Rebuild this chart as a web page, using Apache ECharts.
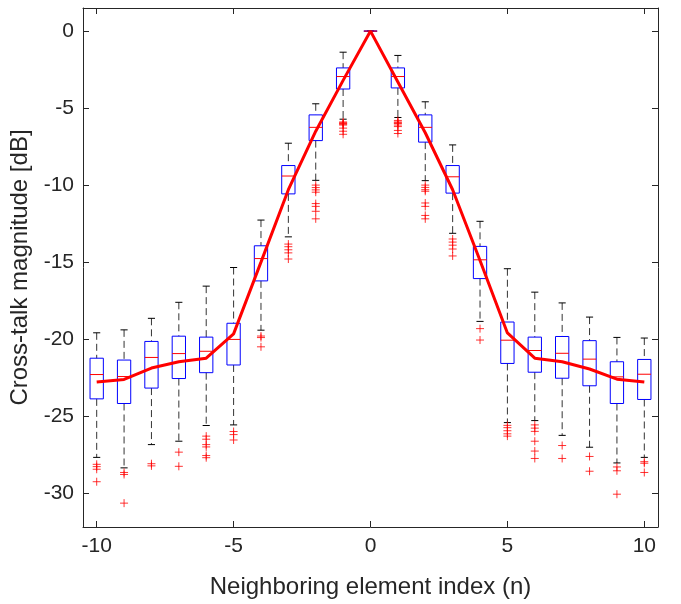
<!DOCTYPE html>
<html>
<head>
<meta charset="utf-8">
<script src="https://cdn.jsdelivr.net/npm/echarts@6/dist/echarts.min.js"></script>
<style>
	html, body { margin: 0; padding: 0; background: #fff; }
	#chart { width: 681px; height: 604px; }
</style>
</head>
<body>
<div id="chart"></div>
<script>
const indices = [-10, -9, -8, -7, -6, -5, -4, -3, -2, -1, 0, 1, 2, 3, 4, 5, 6, 7, 8, 9, 10];
const whiskerLow = [-27.68, -28.36, -26.85, -26.63, -25.61, -25.57, -19.42, -13.36, -9.69, -5.72, 0, -5.61, -9.71, -13.13, -18.85, -25.42, -25.29, -26.25, -27.02, -28.04, -27.68];
const quartile1 = [-23.88, -24.18, -23.18, -22.56, -22.18, -21.68, -16.22, -10.57, -7.11, -3.76, 0, -3.69, -7.21, -10.52, -16.07, -21.58, -22.15, -22.54, -23.03, -24.18, -23.92];
const medians = [-22.30, -22.43, -21.19, -20.94, -20.79, -20.02, -14.77, -9.41, -6.25, -2.95, 0, -2.95, -6.25, -9.46, -14.85, -20.07, -20.74, -20.92, -21.30, -22.45, -22.28];
const quartile3 = [-21.24, -21.36, -20.15, -19.81, -19.87, -18.97, -13.94, -8.73, -5.44, -2.39, 0, -2.39, -5.44, -8.73, -13.98, -18.89, -19.87, -19.83, -20.10, -21.47, -21.32];
const whiskerHigh = [-19.59, -19.40, -18.65, -17.61, -16.56, -15.35, -12.27, -7.28, -4.72, -1.37, 0, -1.58, -4.59, -7.39, -12.35, -15.43, -16.95, -17.65, -18.57, -19.89, -19.93];
const meanLine = [-22.79, -22.62, -21.88, -21.47, -21.24, -19.66, -15.0, -10.3, -6.5, -3.2, 0, -3.3, -6.6, -10.3, -14.9, -19.6, -21.24, -21.47, -21.94, -22.6, -22.79];
const outliers = [
	[-28.13, -28.28, -28.45, -29.26],
	[-28.66, -28.79, -30.65],
	[-28.09, -28.23],
	[-27.34, -28.26],
	[-26.3, -26.5, -26.85, -27.0, -27.56, -27.7],
	[-26.0, -26.2, -26.55],
	[-19.8, -19.9, -20.5],
	[-13.83, -14.0, -14.2, -14.4, -14.8],
	[-10.0, -10.16, -10.31, -10.46, -11.2, -11.38, -11.7, -12.19],
	[-5.9, -5.95, -6.0, -6.05, -6.1, -6.3, -6.5, -6.7],
	[],
	[-5.8, -5.9, -5.95, -6.0, -6.1, -6.2, -6.45, -6.65],
	[-10.0, -10.15, -10.3, -10.4, -11.16, -11.38, -11.97, -12.19],
	[-13.5, -13.7, -13.9, -14.15, -14.6],
	[-19.32, -20.06],
	[-25.6, -25.75, -25.95, -26.15, -26.3],
	[-25.57, -25.78, -25.99, -26.63, -27.27, -27.75],
	[-26.91, -27.75],
	[-27.62, -28.58],
	[-28.3, -28.55, -30.07],
	[-27.96, -28.06, -28.66]
];
const xTicks = [-10, -5, 0, 5, 10];
const yTicks = [-30, -25, -20, -15, -10, -5, 0];

const axisColor = '#262626';
const font = '"Liberation Sans", Arial, Helvetica, sans-serif';

const boxData = indices.map((n, i) => [n, whiskerLow[i], quartile1[i], medians[i], quartile3[i], whiskerHigh[i]]);
const outlierData = indices.flatMap((n, i) => outliers[i].map(v => [n, v]));
const meanData = indices.map((n, i) => [n, meanLine[i]]);

// whiskers (dashed), caps, blue box and red median for one index
const renderBox = (params, api) => {
	const x = api.value(0),
		lo = api.coord([x, api.value(1)]),
		q1 = api.coord([x, api.value(2)]),
		med = api.coord([x, api.value(3)]),
		q3 = api.coord([x, api.value(4)]),
		hi = api.coord([x, api.value(5)]),
		unit = api.size([1, 0])[0],
		half = unit * 0.243,
		cap = unit * 0.13,
		cx = lo[0],
		whisker = { stroke: '#333', lineWidth: 1, lineDash: [7, 4] },
		solid = { stroke: '#000', lineWidth: 1 };

	return {
		type: 'group',
		children: [
			{ type: 'line', shape: { x1: cx, y1: hi[1], x2: cx, y2: q3[1] }, style: whisker },
			{ type: 'line', shape: { x1: cx, y1: q1[1], x2: cx, y2: lo[1] }, style: whisker },
			{ type: 'line', shape: { x1: cx - cap, y1: hi[1], x2: cx + cap, y2: hi[1] }, style: solid },
			{ type: 'line', shape: { x1: cx - cap, y1: lo[1], x2: cx + cap, y2: lo[1] }, style: solid },
			{
				type: 'rect',
				shape: { x: cx - half, y: q3[1], width: half * 2, height: q1[1] - q3[1] },
				style: { fill: 'none', stroke: '#0000ff', lineWidth: 1 }
			},
			{ type: 'line', shape: { x1: cx - half, y1: med[1], x2: cx + half, y2: med[1] }, style: { stroke: '#ff0000', lineWidth: 1 } }
		]
	};
};

const chart = echarts.init(document.getElementById('chart'), null, { renderer: 'canvas' });

const mirrorAxis = extra => Object.assign({
	type: 'value',
	axisLine: { show: true, onZero: false, lineStyle: { color: axisColor, width: 1 } },
	axisTick: { show: true, inside: true, length: 6, lineStyle: { color: axisColor } },
	axisLabel: { show: false },
	splitLine: { show: false }
}, extra);

chart.setOption({
	animation: false,
	backgroundColor: '#fff',
	grid: { left: 83, right: 23, top: 8, bottom: 69, containLabel: false },
	xAxis: [
		mirrorAxis({
			position: 'bottom',
			min: -10.5,
			max: 10.5,
			name: 'Neighboring element index (n)',
			nameLocation: 'middle',
			nameGap: 48,
			nameTextStyle: { color: axisColor, fontFamily: font, fontSize: 24 },
			axisTick: { show: true, inside: true, length: 6, customValues: xTicks, lineStyle: { color: axisColor } },
			axisLabel: { show: true, customValues: xTicks, color: axisColor, fontFamily: font, fontSize: 21, margin: 9 }
		}),
		mirrorAxis({
			position: 'top',
			min: -10.5,
			max: 10.5,
			axisTick: { show: true, inside: true, length: 6, customValues: xTicks, lineStyle: { color: axisColor } }
		})
	],
	yAxis: [
		mirrorAxis({
			position: 'left',
			min: -32.2,
			max: 1.5,
			name: 'Cross-talk magnitude [dB]',
			nameLocation: 'middle',
			nameGap: 41,
			nameTextStyle: { color: axisColor, fontFamily: font, fontSize: 24 },
			axisTick: { show: true, inside: true, length: 6, customValues: yTicks, lineStyle: { color: axisColor } },
			axisLabel: { show: true, customValues: yTicks, color: axisColor, fontFamily: font, fontSize: 21, margin: 9 }
		}),
		mirrorAxis({
			position: 'right',
			min: -32.2,
			max: 1.5,
			axisTick: { show: true, inside: true, length: 6, customValues: yTicks, lineStyle: { color: axisColor } }
		})
	],
	series: [
		{
			type: 'custom',
			renderItem: renderBox,
			data: boxData,
			encode: { x: 0, y: [1, 2, 3, 4, 5] },
			z: 2
		},
		{
			type: 'scatter',
			data: outlierData,
			symbol: 'path://M5,0L5,10M0,5L10,5',
			symbolSize: 8,
			itemStyle: { color: 'none', borderColor: '#ff0000', borderWidth: 1 },
			z: 3
		},
		{
			type: 'line',
			data: meanData,
			symbol: 'none',
			lineStyle: { color: '#ff0000', width: 3 },
			z: 4
		}
	]
});
</script>
</body>
</html>
